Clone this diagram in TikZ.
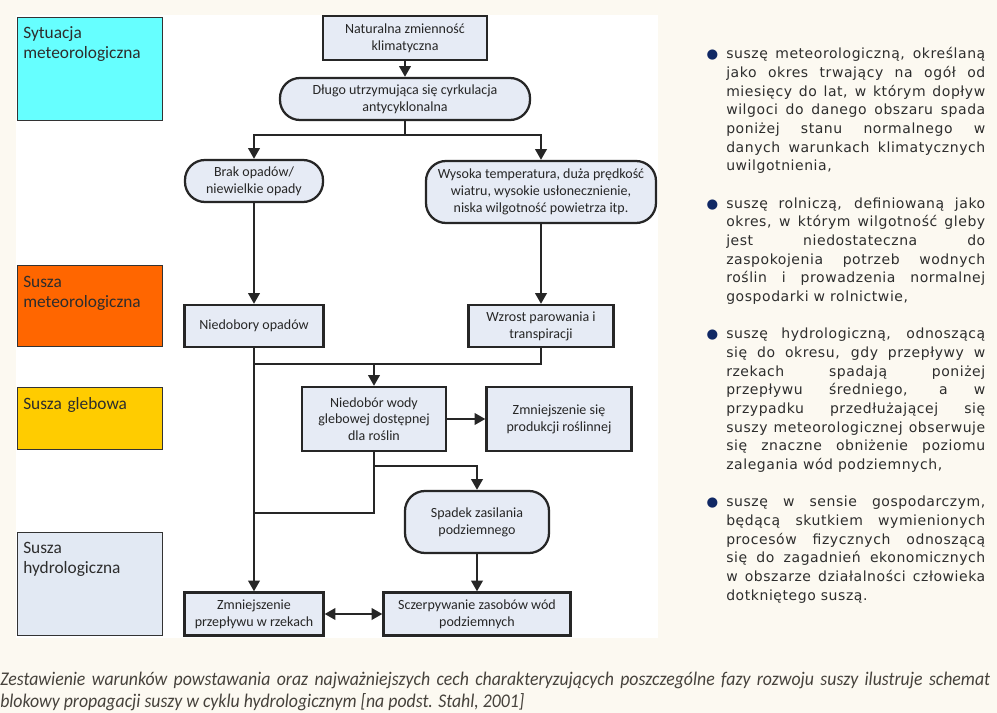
\documentclass[tikz,border=0pt]{standalone}
\usepackage{fontspec}
\usepackage{xcolor}
\usepackage{tikz}
\usetikzlibrary{arrows.meta,calc}
\setmainfont{Carlito}
\newfontfamily\sidefont[LetterSpace=4]{DejaVu Sans}
\newfontfamily\capfont[FakeStretch=0.92]{Carlito}
\definecolor{pagebg}{RGB}{252,249,241}
\definecolor{boxfill}{RGB}{230,235,245}
\definecolor{meteocyan}{RGB}{102,255,255}
\definecolor{meteoorange}{RGB}{255,102,0}
\definecolor{soilyellow}{RGB}{255,204,0}
\definecolor{hydroblue}{RGB}{226,233,243}
\definecolor{bulletblue}{RGB}{16,40,100}
\definecolor{textgray}{RGB}{45,45,45}
\definecolor{capgray}{RGB}{70,66,60}
\newdimen\pxu \pxu=0.75pt
\newcommand\dotitem{\noindent\llap{\textcolor{bulletblue}{\fontsize{10}{10}\selectfont ●}\hspace{6pt}}}
\hbadness=10000
\hfuzz=20pt

\begin{document}
\begin{tikzpicture}[x=0.75pt,y=-0.75pt,
  flow/.style={draw=black!85, line width=1.7pt, fill=boxfill, align=center, inner sep=1pt,
    font=\fontsize{10.5}{12.6}\selectfont, text=black!85},
  term/.style={flow, rounded corners=15pt},
  phase/.style={draw=black!80, line width=0.75pt, anchor=north west, minimum width=145\pxu},
  phasetext/.style={anchor=base west, align=left, inner sep=0pt, text width=135\pxu,
    font=\fontsize{13}{15}\selectfont, text=textgray},
  sidetext/.style={anchor=base west, inner sep=0pt, text width=259\pxu, align=justify,
    font=\sidefont\fontsize{10.5}{14}\selectfont, text=textgray},
  captext/.style={anchor=base west, inner sep=0pt, text width=990\pxu, align=justify,
    font={\capfont\itshape\fontsize{14.5}{16.5}\selectfont}, text=capgray},
  conn/.style={line width=1.8pt, draw=black!85},
  arr/.style={conn, -{Triangle[length=8pt,width=8.5pt]}},
  biarr/.style={conn, {Triangle[length=8pt,width=8.5pt]}-{Triangle[length=8pt,width=8.5pt]}}]
\useasboundingbox (0,0) rectangle (997,713);
\fill[pagebg] (0,0) rectangle (997,713);
\fill[white] (16,15) rectangle (658,638);

\node[phase, fill=meteocyan, minimum height=103\pxu] (sytu) at (17,17) {};
\node[phasetext] (sytutxt) at (23,39) {Sytuacja\\meteorologiczna};
\node[phase, fill=meteoorange, minimum height=81\pxu] (smeteo) at (17,265) {};
\node[phasetext] (smeteotxt) at (23,287) {Susza\\meteorologiczna};
\node[phase, fill=soilyellow, minimum height=62\pxu] (sgleb) at (17,387) {};
\node[phasetext] (sglebtxt) at (23,409) {Susza glebowa};
\node[phase, fill=hydroblue, minimum height=103\pxu] (shydro) at (17,532) {};
\node[phasetext] (shydrotxt) at (23,553) {Susza\\hydrologiczna};

\node[flow, minimum width=164\pxu, minimum height=44\pxu] (nat) at (405,38) {Naturalna zmienność\\klimatyczna};
\node[term, minimum width=250\pxu, minimum height=42\pxu] (dlugo) at (405,99) {Długo utrzymująca się cyrkulacja\\antycyklonalna};
\node[term, minimum width=138\pxu, minimum height=42\pxu] (brak) at (254,181) {Brak opadów/\\niewielkie opady};
\node[term, minimum width=230\pxu, minimum height=62\pxu] (wys) at (541,192) {Wysoka temperatura, duża prędkość\\wiatru, wysokie usłonecznienie,\\niska wilgotność powietrza itp.};
\node[flow, minimum width=139\pxu, minimum height=42\pxu] (niedob) at (254,326) {Niedobory opadów};
\node[flow, minimum width=145\pxu, minimum height=42\pxu] (wzrost) at (541,326) {Wzrost parowania i\\transpiracji};
\node[flow, minimum width=144\pxu, minimum height=64\pxu] (gleb) at (374,419) {Niedobór wody\\glebowej dostępnej\\dla roślin};
\node[flow, minimum width=145\pxu, minimum height=64\pxu] (prod) at (559,419) {Zmniejszenie się\\produkcji roślinnej};
\node[term, minimum width=144\pxu, minimum height=62\pxu] (spadek) at (477,522) {Spadek zasilania\\podziemnego};
\node[flow, minimum width=139\pxu, minimum height=43\pxu] (rzeki) at (254,614) {Zmniejszenie\\przepływu w rzekach};
\node[flow, minimum width=187\pxu, minimum height=43\pxu] (zasoby) at (477,614) {Sczerpywanie zasobów wód\\podziemnych};

\coordinate (split) at ($(dlugo.south)+(0,14)$);
\coordinate (merge) at ($(wzrost.south)+(0,16)$);
\coordinate (fork) at ($(gleb.south)+(0,14)$);
\coordinate (bend) at ($(fork)+(0,47)$);
\draw[arr] (nat) -- (dlugo);
\draw[conn] (dlugo) -- (split);
\draw[arr] (split) -| (brak);
\draw[arr] (split) -| (wys);
\draw[arr] (brak) -- (niedob);
\draw[arr] (wys) -- (wzrost);
\draw[arr] (niedob) -- (rzeki);
\draw[conn] (wzrost) -- (merge) -- (merge -| niedob.south);
\draw[arr] (merge -| gleb.north) -- (gleb);
\draw[arr] (gleb) -- (prod);
\draw[arr] (gleb) -- (fork) -| (spadek);
\draw[conn] (fork) -- (bend) -- (bend -| niedob.south);
\draw[arr] (spadek) -- (zasoby);
\draw[biarr] (rzeki) -- (zasoby);

\node[sidetext] (defs) at (726,59) {%
\dotitem suszę meteorologiczną, określaną\linebreak jako okres trwający na ogół od\linebreak miesięcy do lat, w którym dopływ\linebreak wilgoci do danego obszaru spada\linebreak poniżej stanu normalnego w\linebreak danych warunkach klimatycznych\linebreak uwilgotnienia,\par\vspace{\baselineskip}
\dotitem suszę rolniczą, definiowaną jako\linebreak okres, w którym wilgotność gleby\linebreak jest niedostateczna do\linebreak zaspokojenia potrzeb wodnych\linebreak roślin i prowadzenia normalnej\linebreak gospodarki w rolnictwie,\par\vspace{\baselineskip}
\dotitem suszę hydrologiczną, odnoszącą\linebreak się do okresu, gdy przepływy w\linebreak rzekach spadają poniżej\linebreak przepływu średniego, a w\linebreak przypadku przedłużającej się\linebreak suszy meteorologicznej obserwuje\linebreak się znaczne obniżenie poziomu\linebreak zalegania wód podziemnych,\par\vspace{\baselineskip}
\dotitem suszę w sensie gospodarczym,\linebreak będącą skutkiem wymienionych\linebreak procesów fizycznych odnoszącą\linebreak się do zagadnień ekonomicznych\linebreak w obszarze działalności człowieka\linebreak dotkniętego suszą.};

\node[captext] (caption) at (0,685) {Zestawienie warunków powstawania oraz najważniejszych cech charakteryzujących poszczególne fazy rozwoju suszy ilustruje schemat\linebreak blokowy propagacji suszy w cyklu hydrologicznym [na podst. Stahl, 2001]};
\end{tikzpicture}
\end{document}
